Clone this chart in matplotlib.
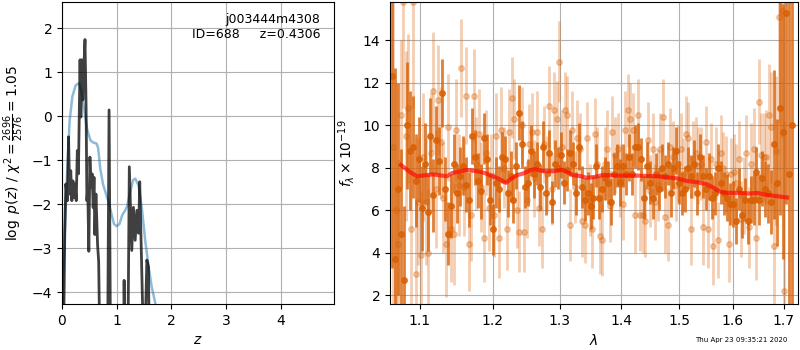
import numpy as np
import matplotlib
matplotlib.use('Agg')
import matplotlib.pyplot as plt
from matplotlib.ticker import FixedLocator, FixedFormatter, NullLocator

# ---- p(z) panel ----
z_chi = [0.0, 0.02, 0.05, 0.07, 0.10, 0.12, 0.14, 0.16, 0.18, 0.20,
         0.22, 0.24, 0.26, 0.28, 0.30, 0.33, 0.345, 0.36, 0.38, 0.40,
         0.42, 0.44, 0.455, 0.47, 0.49, 0.51, 0.53, 0.55, 0.57, 0.585,
         0.60, 0.62, 0.65, 0.67, 0.70, 0.83, 0.86, 0.89, 1.12, 1.135,
         1.16, 1.20, 1.23, 1.275, 1.305, 1.337, 1.368, 1.40, 1.42, 1.47,
         1.50, 1.55, 1.58, 1.60, 5.0]
logp_chi = [-6, -6, -2.7, -1.54, -1.92, -0.47, -1.77, -1.24, -1.92, -1.47,
            -1.85, -1.54, -1.92, -0.78, -1.31, 1.28, -0.02, 1.28, 0.37, 1.13,
            1.74, 0.21, -1.92, -1.62, -3.07, -0.93, -1.62, -1.31, -2.08, -1.39,
            -2.69, -1.77, -2.92, -3.3, -6, -6, 0.14, -6, -6, -3.73,
            -6, -6, -1.15, -3.05, -2.07, -2.82, -2.14, -2.66, -1.49, -4.18,
            -6, -3.27, -3.42, -6, -6]

z_smooth = [0.0, 0.02, 0.06, 0.10, 0.14, 0.19, 0.25, 0.31, 0.345, 0.40,
            0.46, 0.52, 0.57, 0.63, 0.66, 0.70, 0.75, 0.80, 0.85, 0.90,
            0.95, 1.0, 1.05, 1.10, 1.15, 1.19, 1.25, 1.30, 1.34, 1.40,
            1.46, 1.52, 1.58, 1.64, 1.70, 1.80]
logp_smooth = [-5.5, -3.8, -2.3, -1.1, -0.1, 0.45, 0.7, 0.75, 0.62, 0.2,
               -0.3, -0.55, -0.6, -0.62, -0.72, -1.2, -1.55, -1.75, -1.95, -2.2,
               -2.45, -2.5, -2.45, -2.25, -2.15, -2.05, -1.7, -1.45, -1.42, -1.58,
               -2.1, -2.82, -3.4, -3.88, -4.22, -5.0]

# ---- spectrum panel ----
flux_dark = [12.3, 3.7, 7.0, 4.9, 2.7, 10.0, 8.8, 9.0, 7.4, 8.4,
             6.1, 8.2, 5.9, 9.5, 6.7, 9.3, 8.3, 11.5, 7.0, 4.9,
             6.2, 8.2, 6.8, 7.6, 8.1, 7.2, 6.5, 9.5, 8.5, 7.4,
             6.9, 9.4, 8.4, 6.5, 5.1, 7.3, 7.0, 8.5, 8.4, 6.8,
             7.6, 6.5, 8.1, 10.6, 9.1, 7.1, 7.3, 8.8, 7.7, 8.2,
             7.1, 9.0, 6.8, 8.7, 6.4, 8.2, 8.0, 8.6, 7.3, 7.9,
             8.7, 8.2, 6.8, 9.0, 7.1, 6.5, 6.8, 6.2, 6.6, 8.1,
             6.6, 7.0, 7.5, 7.3, 6.4, 7.7, 8.1, 7.3, 8.1, 7.7,
             8.5, 7.7, 9.0, 9.0, 8.4, 6.6, 8.1, 7.3, 6.6, 7.7,
             7.0, 8.0, 7.6, 8.2, 6.8, 8.0, 8.8, 7.3, 6.8, 7.0,
             8.0, 7.6, 8.2, 6.8, 8.5, 7.6, 7.0, 7.6, 6.6, 6.8,
             8.0, 7.3, 6.8, 6.6, 6.3, 6.3, 5.5, 7.0, 5.8, 6.5,
             5.5, 6.5, 6.5, 7.8, 6.5, 7.5, 7.0, 6.8, 6.4, 9.1,
             7.3, 10.8, 9.7, 15.3, 7.7, 10.0]
err_dark = [9, 9, 5, 4, 3.5, 3, 2.8, 2.4, 2.2, 2.0,
            2.0, 1.9, 1.8, 1.8, 1.7, 1.6, 1.6, 1.6, 1.5, 1.5,
            1.5, 1.4, 1.4, 1.4, 1.4, 1.3, 1.3, 1.3, 1.3, 1.3,
            1.3, 1.2, 1.2, 1.2, 1.2, 1.2, 1.1, 1.2, 1.1, 1.1,
            1.2, 1.1, 1.1, 1.3, 1.1, 1.0, 1.1, 1.2, 1.1, 1.0,
            1.1, 1.2, 1.0, 1.1, 1.0, 1.1, 1.0, 1.1, 1.0, 1.0,
            1.1, 1.0, 1.0, 1.1, 1.0, 1.0, 1.0, 1.1, 1.0, 1.0,
            1.0, 1.1, 1.0, 1.0, 1.1, 1.0, 1.0, 1.1, 1.0, 1.0,
            1.1, 1.0, 1.0, 1.1, 1.0, 1.0, 1.1, 1.0, 1.0, 1.0,
            1.0, 1.1, 1.0, 1.0, 1.1, 1.0, 1.1, 1.0, 1.0, 1.1,
            1.0, 1.0, 1.1, 1.0, 1.1, 1.0, 1.0, 1.1, 1.0, 1.0,
            1.1, 1.0, 1.0, 1.1, 1.0, 1.1, 1.1, 1.0, 1.1, 1.0,
            1.1, 1.1, 1.2, 1.2, 1.2, 1.3, 1.3, 1.4, 1.5, 3.5,
            3.0, 5.0, 6.0, 9.0, 9.0, 12.0]

flux_light = [9.0, 6.0, 4.4, 10.5, 15.8, 9.5, 10.8, 5.1, 15.8, 3.0,
              6.4, 3.9, 8.5, 6.4, 4.0, 8.7, 11.6, 7.0, 11.2, 9.2,
              6.6, 4.4, 9.9, 5.1, 4.9, 9.8, 7.2, 12.7, 7.1, 11.4,
              4.4, 5.8, 11.4, 8.2, 9.6, 7.1, 4.7, 8.7, 6.1, 7.6,
              5.8, 9.5, 4.7, 9.8, 8.0, 5.1, 9.7, 11.3, 10.3, 6.0,
              5.0, 10.0, 5.0, 6.5, 9.1, 9.7, 7.5, 9.7, 6.1, 5.1,
              9.1, 7.7, 10.9, 7.0, 10.7, 10.3, 13.0, 9.0, 10.7, 10.5,
              5.3, 9.8, 7.1, 9.4, 8.9, 5.5, 5.3, 9.4, 6.5, 5.1,
              9.6, 8.2, 4.8, 4.6, 8.2, 8.9, 6.2, 9.7, 8.6, 8.9,
              7.4, 6.3, 9.8, 10.7, 10.3, 9.8, 5.8, 10.5, 5.8, 5.8,
              5.5, 9.3, 6.9, 8.9, 6.4, 7.2, 8.9, 10.4, 5.7, 5.3,
              9.0, 8.5, 7.2, 8.2, 8.9, 7.7, 9.6, 9.4, 5.1, 8.4,
              8.7, 8.1, 8.2, 5.2, 9.2, 5.1, 8.4, 4.3, 8.2, 4.6,
              8.7, 8.0, 7.7, 4.4, 7.7, 7.8, 7.3, 8.4, 5.6, 6.7,
              8.7, 5.2, 8.2, 8.9, 4.7, 11.1, 8.6, 8.5, 8.5, 10.5,
              9.9, 4.3, 8.8, 15.1, 15.4, 2.2]
err_light = [8, 6, 4, 3.5, 5, 4, 3.5, 3.5, 5, 3.5,
             3, 3, 3, 3, 3, 2.8, 2.8, 2.8, 2.6, 2.6,
             2.6, 2.5, 2.5, 2.5, 2.4, 2.4, 2.4, 2.3, 2.3, 2.3,
             2.2, 2.2, 2.2, 2.2, 2.1, 2.1, 2.1, 2.0, 2.0, 2.0,
             2.0, 2.0, 1.9, 2.0, 1.9, 1.9, 2.0, 1.9, 1.9, 1.8,
             1.9, 1.8, 1.9, 1.8, 1.9, 1.8, 1.8, 1.9, 1.8, 1.8,
             1.8, 1.8, 1.9, 1.7, 1.8, 1.8, 1.9, 1.7, 1.8, 1.8,
             1.7, 1.8, 1.7, 1.8, 1.7, 1.7, 1.8, 1.7, 1.7, 1.8,
             1.7, 1.7, 1.8, 1.7, 1.7, 1.8, 1.7, 1.7, 1.8, 1.7,
             1.7, 1.7, 1.8, 1.7, 1.7, 1.7, 1.8, 1.7, 1.7, 1.8,
             1.7, 1.8, 1.7, 1.7, 1.8, 1.7, 1.7, 1.8, 1.7, 1.7,
             1.8, 1.7, 1.7, 1.8, 1.7, 1.7, 1.8, 1.7, 1.7, 1.8,
             1.7, 1.8, 1.7, 1.8, 1.7, 1.8, 1.7, 1.8, 1.7, 1.8,
             1.8, 1.7, 1.8, 1.8, 1.7, 1.8, 1.8, 1.8, 1.8, 1.8,
             1.8, 1.9, 1.9, 1.9, 2.0, 2.0, 2.0, 2.1, 2.2, 2.4,
             2.6, 3.0, 3.5, 5.0, 6.0, 8.0]

# wavelength sampling of the two spectra (microns)
wave_dark = np.geomspace(1.0637, 1.7174, len(flux_dark))
wave_light = np.geomspace(1.0650, 1.7010, len(flux_light))

wave_model = [1.0752, 1.0869, 1.0961, 1.1173, 1.1362, 1.1430, 1.1637, 1.1777, 1.1890, 1.2005,
              1.2106, 1.2193, 1.2267, 1.2355, 1.2444, 1.2549, 1.2624, 1.2746, 1.2899, 1.3039,
              1.3118, 1.3212, 1.3323, 1.3435, 1.3565, 1.3695, 1.3977, 1.4264, 1.4610, 1.4965,
              1.5145, 1.5327, 1.5512, 1.5624, 1.5755, 1.5888, 1.6137, 1.6332, 1.6469, 1.6668,
              1.6869, 1.7072]
flux_model = [8.13, 7.8, 7.6, 7.69, 7.6, 7.75, 7.9, 7.84, 7.75, 7.6,
              7.45, 7.29, 7.48, 7.65, 7.73, 7.88, 7.94, 7.84, 7.84, 7.9,
              7.8, 7.65, 7.61, 7.53, 7.57, 7.66, 7.63, 7.63, 7.6, 7.5,
              7.38, 7.32, 7.22, 7.07, 6.87, 6.82, 6.82, 6.79, 6.82, 6.72,
              6.66, 6.6]

wave_ticks = [1.1, 1.2, 1.3, 1.4, 1.5, 1.6, 1.7]

spec_color = '#d95f02'

fig = plt.figure(figsize=(8, 3.5), dpi=100)

ax = fig.add_axes([0.0775, 0.131, 0.34, 0.863])
ax.plot(z_smooth, logp_smooth, color='tab:blue', alpha=0.5, lw=1.8)
ax.plot(z_chi, logp_chi, color='k', alpha=0.75, lw=2)
ax.set_xlim(0, 4.97)
ax.set_ylim(-4.27, 2.59)
ax.set_xlabel('$z$')
ax.set_ylabel(r'$\log\ p(z)$ / $\chi^2=\frac{2696}{2576}=1.05$')
ax.grid()
ax.text(0.95, 0.965, 'j003444m4308\nID=688     z=0.4306', ha='right', va='top',
        transform=ax.transAxes, fontsize=9)

ax2 = fig.add_axes([0.4875, 0.131, 0.51, 0.863])
ax2.errorbar(wave_light, flux_light, yerr=err_light, marker='o', ms=4,
             linestyle='None', color=spec_color, alpha=0.3, elinewidth=2)
ax2.errorbar(wave_dark, flux_dark, yerr=err_dark, marker='o', ms=4,
             linestyle='None', color=spec_color, alpha=0.8, elinewidth=2)
ax2.plot(wave_model, flux_model, color='r', alpha=0.65, lw=3, zorder=10)
ax2.set_xscale('log')
ax2.xaxis.set_major_locator(FixedLocator(wave_ticks))
ax2.xaxis.set_major_formatter(FixedFormatter([str(t) for t in wave_ticks]))
ax2.xaxis.set_minor_locator(NullLocator())
ax2.set_xlim(1.0612, 1.7297)
ax2.set_ylim(1.58, 15.8)
ax2.set_xlabel(r'$\lambda$')
ax2.set_ylabel(r'$f_\lambda \times 10^{-19}$')
ax2.grid()

fig.text(0.984, 0.028, 'Thu Apr 23 09:35:21 2020', ha='right', va='center', fontsize=5)

fig.savefig('out.png', dpi=100)
